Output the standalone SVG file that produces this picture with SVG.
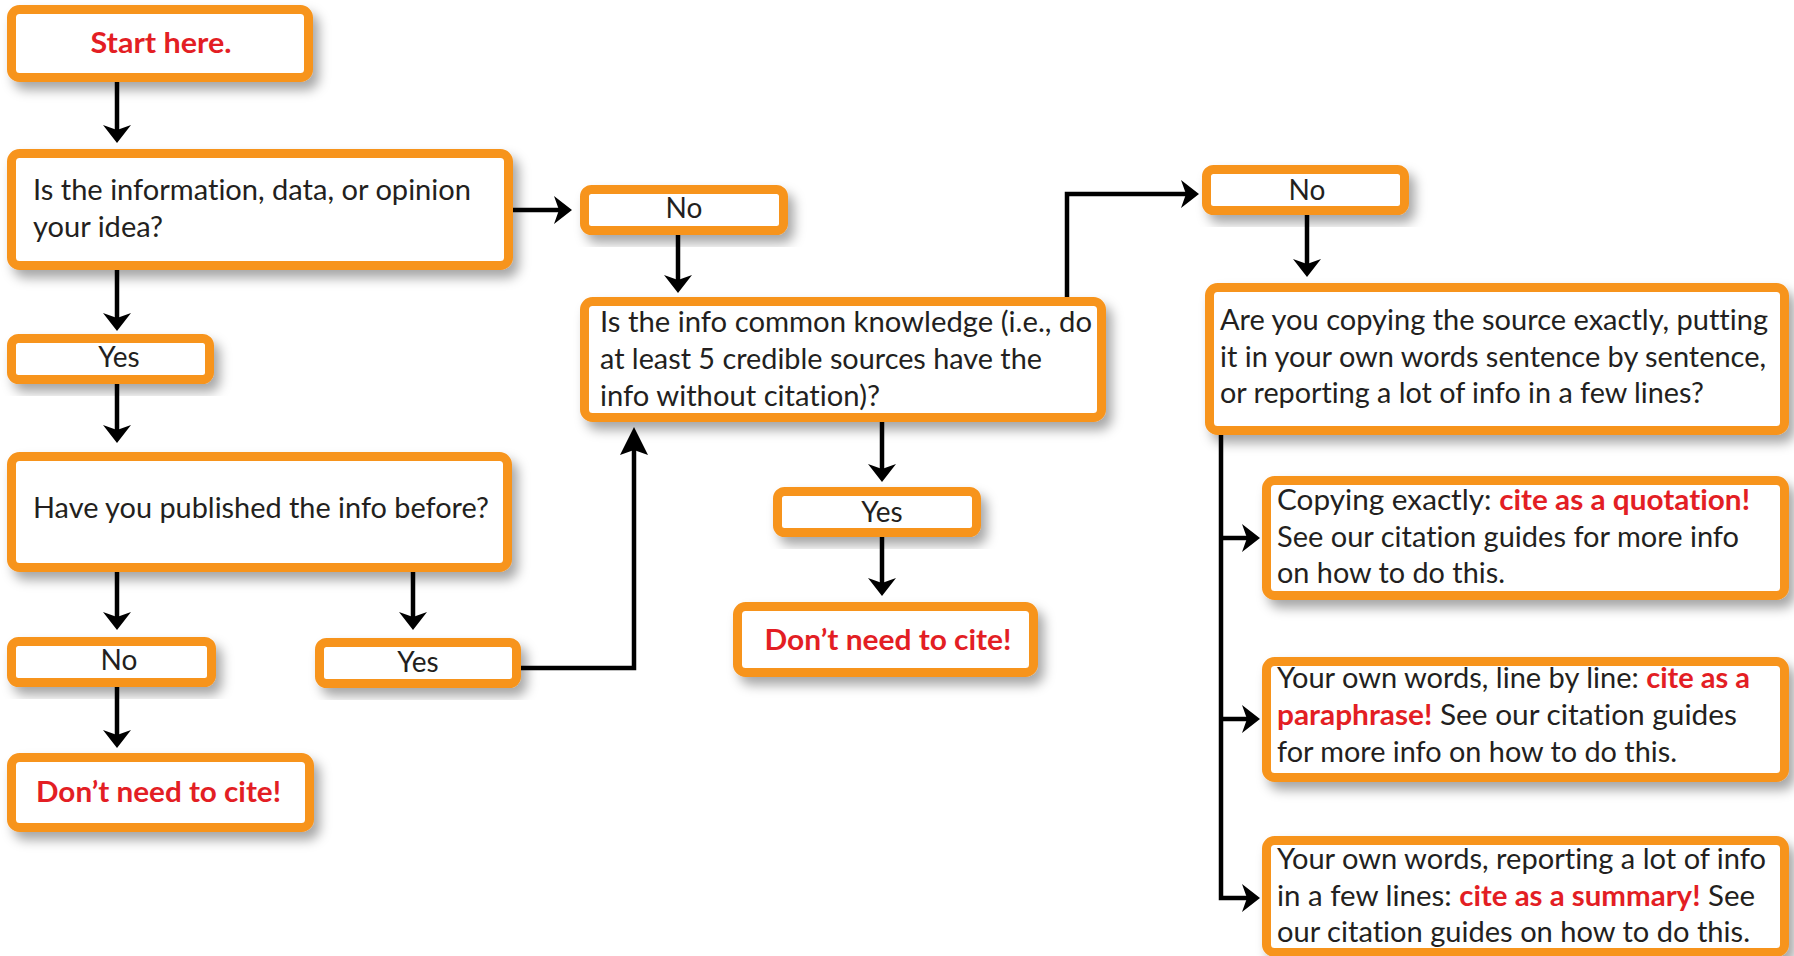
<svg xmlns="http://www.w3.org/2000/svg" width="1794" height="956" viewBox="0 0 1794 956">
<defs>
<style>
.box{fill:#fff;stroke:#F7941D;stroke-width:9;}
.t{font-family:Lato,"Liberation Sans",sans-serif;font-size:28px;fill:#231F20;font-variant-ligatures:none;}
.c{text-anchor:middle;}
.r{fill:#E31E24;font-weight:bold;}
.b{font-family:Lato,"Liberation Sans",sans-serif;font-size:29px;font-weight:bold;fill:#E31E24;text-anchor:middle;font-variant-ligatures:none;}
.ln{fill:none;stroke:#000;stroke-width:4.5;}
.ar{marker-end:url(#ah);}
.au{marker-end:url(#ahu);}
</style>
<filter id="sh" x="-10%" y="-20%" width="130%" height="160%">
<feDropShadow dx="6" dy="8" stdDeviation="6" flood-color="#000" flood-opacity="0.35"/>
</filter>
<marker id="ah" markerUnits="userSpaceOnUse" viewBox="-12 -15 22 30" refX="0" refY="0" markerWidth="22" markerHeight="30" orient="auto">
<path d="M8,0 L-10,-14 L-5,0 L-10,14 Z" fill="#000"/>
</marker>
<marker id="ahu" markerUnits="userSpaceOnUse" viewBox="-22 -15 34 30" refX="0" refY="0" markerWidth="34" markerHeight="30" orient="auto">
<path d="M10,0 L-18,-14 L-13,0 L-18,14 Z" fill="#000"/>
</marker>
</defs>
<rect width="1794" height="956" fill="#fff"/>

<g id="connectors">
<path class="ln ar" d="M117,82 V135"/>
<path class="ln ar" d="M117,270 V323"/>
<path class="ln ar" d="M117,384 V435"/>
<path class="ln ar" d="M117,572 V622"/>
<path class="ln ar" d="M413,572 V622"/>
<path class="ln ar" d="M117,687 V740"/>
<path class="ln au" d="M521,668 H634 V437"/>
<path class="ln ar" d="M513,210 H564"/>
<path class="ln ar" d="M678,235 V285"/>
<path class="ln ar" d="M882,422 V474"/>
<path class="ln ar" d="M882,537 V588"/>
<path class="ln ar" d="M1067,297 V194 H1191"/>
<path class="ln ar" d="M1307,215 V269"/>
<path class="ln ar" d="M1221,435 V898 H1252"/>
<path class="ln ar" d="M1221,538 H1252"/>
<path class="ln ar" d="M1221,719 H1252"/>
</g>

<g id="start">
<rect class="box" x="11.5" y="9.5" width="297" height="68" rx="8" filter="url(#sh)"/>
<text class="b" x="161" y="53" textLength="141" lengthAdjust="spacingAndGlyphs">Start here.</text>
</g>

<g id="q-your-idea">
<rect class="box" x="11.5" y="153.5" width="497" height="112" rx="8" filter="url(#sh)"/>
<text class="t" x="33" y="200" textLength="438" lengthAdjust="spacingAndGlyphs">Is the information, data, or opinion</text>
<text class="t" x="33" y="237" textLength="130" lengthAdjust="spacingAndGlyphs">your idea?</text>
</g>

<g id="yes-1">
<rect class="box" x="11.5" y="338.5" width="198" height="41" rx="7" filter="url(#sh)"/>
<text class="t c" x="119" y="367">Yes</text>
</g>

<g id="q-published">
<rect class="box" x="11.5" y="456.5" width="496" height="111" rx="8" filter="url(#sh)"/>
<text class="t" x="33" y="518" textLength="456" lengthAdjust="spacingAndGlyphs">Have you published the info before?</text>
</g>

<g id="no-1">
<rect class="box" x="11.5" y="641.5" width="200" height="41" rx="7" filter="url(#sh)"/>
<text class="t c" x="119" y="670">No</text>
</g>

<g id="yes-2">
<rect class="box" x="319.5" y="642.5" width="197" height="41" rx="7" filter="url(#sh)"/>
<text class="t c" x="418" y="672">Yes</text>
</g>

<g id="dont-cite-1">
<rect class="box" x="11.5" y="757.5" width="298" height="70" rx="8" filter="url(#sh)"/>
<text class="b" x="158.5" y="802" textLength="245" lengthAdjust="spacingAndGlyphs">Don’t need to cite!</text>
</g>

<g id="no-2">
<rect class="box" x="584.5" y="189.5" width="199" height="41" rx="7" filter="url(#sh)"/>
<text class="t c" x="684" y="218">No</text>
</g>

<g id="q-common">
<rect class="box" x="584.5" y="301.5" width="517" height="116" rx="8" filter="url(#sh)"/>
<text class="t" x="600" y="332" textLength="492" lengthAdjust="spacingAndGlyphs">Is the info common knowledge (i.e., do</text>
<text class="t" x="600" y="369" textLength="442" lengthAdjust="spacingAndGlyphs">at least 5 credible sources have the</text>
<text class="t" x="600" y="406" textLength="280" lengthAdjust="spacingAndGlyphs">info without citation)?</text>
</g>

<g id="yes-3">
<rect class="box" x="777.5" y="491.5" width="199" height="41" rx="7" filter="url(#sh)"/>
<text class="t c" x="882" y="522">Yes</text>
</g>

<g id="dont-cite-2">
<rect class="box" x="737.5" y="606.5" width="296" height="66" rx="8" filter="url(#sh)"/>
<text class="b" x="888" y="650" textLength="247" lengthAdjust="spacingAndGlyphs">Don’t need to cite!</text>
</g>

<g id="no-3">
<rect class="box" x="1206.5" y="169.5" width="198" height="41" rx="7" filter="url(#sh)"/>
<text class="t c" x="1307" y="200">No</text>
</g>

<g id="q-copying">
<rect class="box" x="1209.5" y="287.5" width="575" height="143" rx="8" filter="url(#sh)"/>
<text class="t" x="1220" y="330" textLength="548" lengthAdjust="spacingAndGlyphs">Are you copying the source exactly, putting</text>
<text class="t" x="1220" y="367" textLength="546" lengthAdjust="spacingAndGlyphs">it in your own words sentence by sentence,</text>
<text class="t" x="1220" y="403" textLength="484" lengthAdjust="spacingAndGlyphs">or reporting a lot of info in a few lines?</text>
</g>

<g id="quotation">
<rect class="box" x="1266.5" y="480.5" width="518" height="115" rx="8" filter="url(#sh)"/>
<text class="t" x="1277" y="510" textLength="473" lengthAdjust="spacingAndGlyphs">Copying exactly: <tspan class="r">cite as a quotation!</tspan></text>
<text class="t" x="1277" y="547" textLength="462" lengthAdjust="spacingAndGlyphs">See our citation guides for more info</text>
<text class="t" x="1277" y="583" textLength="228" lengthAdjust="spacingAndGlyphs">on how to do this.</text>
</g>

<g id="paraphrase">
<rect class="box" x="1266.5" y="661.5" width="518" height="116" rx="8" filter="url(#sh)"/>
<text class="t" x="1277" y="688" textLength="473" lengthAdjust="spacingAndGlyphs">Your own words, line by line: <tspan class="r">cite as a</tspan></text>
<text class="t" x="1277" y="725" textLength="460" lengthAdjust="spacingAndGlyphs"><tspan class="r">paraphrase!</tspan> See our citation guides</text>
<text class="t" x="1277" y="762" textLength="400" lengthAdjust="spacingAndGlyphs">for more info on how to do this.</text>
</g>

<g id="summary">
<rect class="box" x="1266.5" y="840.5" width="518" height="112" rx="8" filter="url(#sh)"/>
<text class="t" x="1277" y="869" textLength="489" lengthAdjust="spacingAndGlyphs">Your own words, reporting a lot of info</text>
<text class="t" x="1277" y="906" textLength="478" lengthAdjust="spacingAndGlyphs">in a few lines: <tspan class="r">cite as a summary!</tspan> See</text>
<text class="t" x="1277" y="942" textLength="473" lengthAdjust="spacingAndGlyphs">our citation guides on how to do this.</text>
</g>
</svg>
